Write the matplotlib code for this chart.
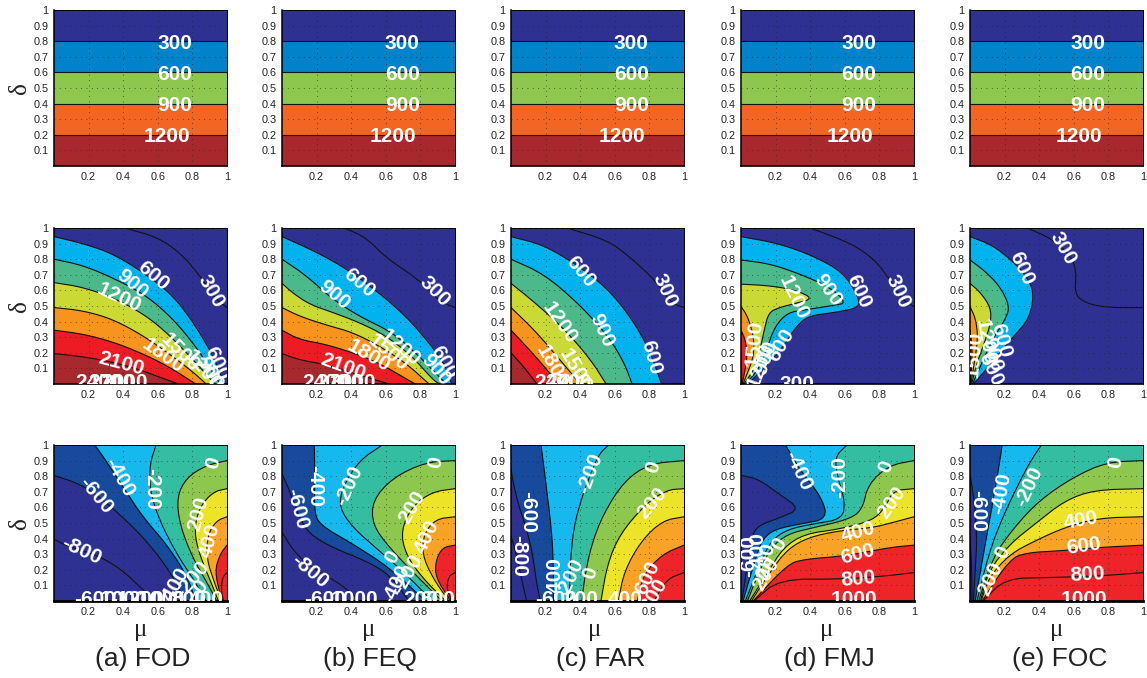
import numpy as np
import matplotlib
matplotlib.use('Agg')
import matplotlib.pyplot as plt

W, H = 1147, 678
col_left = [54, 282, 511, 741, 970]
row_top = [10, 228, 445]
ax_w, ax_h = 173, 156

names = ['(a) FOD', '(b) FEQ', '(c) FAR', '(d) FMJ', '(e) FOC']
name_x = [143, 370, 601, 829, 1060]
mu_x = [141, 369, 595, 827, 1057]
ticks_x = [0.2, 0.4, 0.6, 0.8, 1]
ticks_y = [0.1, 0.2, 0.3, 0.4, 0.5, 0.6, 0.7, 0.8, 0.9, 1]
ticklabels_x = ['0.2', '0.4', '0.6', '0.8', '1']
ticklabels_y = ['0.1', '0.2', '0.3', '0.4', '0.5', '0.6', '0.7', '0.8', '0.9', '1']

navy = '#2e3192'
top_colors = {300: '#0083ca', 600: '#8dc74e', 900: '#f36523', 1200: '#a9282e'}
mid_colors = {600: '#00b2ee', 900: '#4cb98a', 1200: '#cbd935', 1500: '#f7941d', 1800: '#ed1c24', 2100: '#a9282e'}
low_colors = {-600: '#174a9c', -400: '#15b9ee', -200: '#33bda1', 0: '#8dc74e', 200: '#eee427',
              400: '#f9a326', 600: '#ee2428', 800: '#ee2428'}

# top row, same in every column
top_curves = {
    300: [(0, .8), (1, .8)],
    600: [(0, .6), (1, .6)],
    900: [(0, .4), (1, .4)],
    1200: [(0, .2), (1, .2)],
}
top_labels = [
    [('300', .70, .785, 0), ('600', .70, .585, 0), ('900', .70, .385, 0), ('1200', .65, .19, 0)],
    [('300', .695, .785, 0), ('600', .695, .585, 0), ('900', .695, .385, 0), ('1200', .64, .19, 0)],
    [('300', .695, .785, 0), ('600', .695, .585, 0), ('900', .695, .385, 0), ('1200', .64, .19, 0)],
    [('300', .68, .785, 0), ('600', .68, .585, 0), ('900', .68, .385, 0), ('1200', .63, .19, 0)],
    [('300', .68, .785, 0), ('600', .68, .585, 0), ('900', .68, .385, 0), ('1200', .63, .19, 0)],
]

# middle row, contour lines as (mu, delta)
mid_fod = {
    300: [(.41, 1), (.6, .94), (.73, .84), (.84, .70), (.93, .55), (1, .49)],
    600: [(0, .945), (.17, .9), (.34, .835), (.515, .716), (.69, .566), (.82, .37), (.92, .18), (.985, 0)],
    900: [(0, .8), (.17, .76), (.36, .67), (.535, .566), (.69, .415), (.82, .24), (.92, .07), (.96, 0)],
    1200: [(0, .65), (.17, .62), (.36, .545), (.535, .436), (.67, .31), (.8, .16), (.93, 0)],
    1500: [(0, .49), (.17, .47), (.34, .415), (.515, .31), (.67, .19), (.8, .08), (.88, 0)],
    1800: [(0, .345), (.17, .32), (.34, .27), (.5, .2), (.65, .12), (.82, 0)],
    2100: [(0, .195), (.17, .175), (.34, .14), (.5, .09), (.62, .04), (.72, 0)],
}
mid_feq = {
    300: [(.36, 1), (.485, .94), (.6, .81), (.79, .67), (.91, .53), (1, .49)],
    600: [(0, .945), (.2, .845), (.37, .74), (.56, .585), (.715, .435), (.85, .265), (.945, .115), (.98, 0)],
    900: [(0, .8), (.14, .695), (.29, .545), (.445, .435), (.64, .33), (.79, .18), (.87, .09), (.95, 0)],
    1200: [(0, .645), (.06, .585), (.16, .51), (.29, .46), (.445, .395), (.6, .31), (.75, .18), (.87, .03), (.91, 0)],
    1500: [(0, .49), (.1, .435), (.25, .38), (.41, .33), (.56, .245), (.715, .135), (.85, 0)],
    1800: [(0, .345), (.1, .285), (.25, .255), (.41, .2), (.56, .135), (.77, 0)],
    2100: [(0, .195), (.1, .155), (.25, .125), (.41, .07), (.62, 0)],
}
mid_far = {
    300: [(.325, 1), (.56, .92), (.68, .82), (.83, .67), (.925, .52), (1, .49)],
    600: [(0, .945), (.19, .89), (.386, .76), (.56, .61), (.70, .415), (.80, .22), (.87, 0)],
    900: [(0, .8), (.19, .705), (.386, .52), (.56, .31), (.655, .135), (.70, 0)],
    1200: [(0, .645), (.14, .52), (.31, .35), (.46, .157), (.55, 0)],
    1500: [(0, .49), (.14, .34), (.264, .18), (.4, 0)],
    1800: [(0, .345), (.09, .24), (.19, .115), (.276, 0)],
    2100: [(0, .2), (.07, .115), (.15, 0)],
}
mid_fmj = {
    300: [(.40, 1), (.64, .9), (.77, .80), (.86, .67), (.93, .54), (1, .497)],
    600: [(0, .945), (.22, .9), (.42, .82), (.59, .716), (.675, .566), (.686, .49), (.54, .458), (.39, .437),
          (.32, .37), (.245, .243), (.147, .114), (.037, 0)],
    900: [(0, .795), (.17, .77), (.34, .705), (.515, .62), (.61, .52), (.54, .505), (.37, .475), (.27, .458),
          (.196, .37), (.147, .22), (.1, .09), (.025, 0)],
    1200: [(0, .64), (.17, .63), (.32, .6), (.417, .548), (.32, .518), (.22, .49), (.16, .458), (.135, .35),
           (.11, .22), (.074, .09), (.017, 0)],
    1500: [(0, .497), (.037, .437), (.074, .307), (.074, .178), (.037, .07), (.012, 0)],
    1800: [(0, .344), (.025, .286), (.037, .178), (.02, .07), (.007, 0)],
    2100: [(0, .2), (.005, 0)],
}
mid_foc = {
    300: [(.33, 1), (.475, .93), (.585, .82), (.616, .716), (.604, .576), (.67, .518), (.79, .49), (1, .49)],
    600: [(0, .945), (.13, .89), (.254, .78), (.34, .67), (.37, .566), (.34, .415), (.254, .307), (.156, .178),
          (.06, .05), (.02, 0)],
    900: [(0, .795), (.083, .727), (.17, .63), (.23, .5), (.205, .415), (.13, .286), (.06, .114), (.015, 0)],
    1200: [(0, .645), (.06, .587), (.12, .49), (.12, .39), (.083, .265), (.034, .114), (.01, 0)],
    1500: [(0, .497), (.034, .415), (.046, .286), (.022, .114), (.005, 0)],
    1800: [(0, .344), (.015, .22), (.003, 0)],
    2100: [(0, .2), (.002, 0)],
}
mid_labels = [
    [('300', .91, .595, -60), ('600', .573, .695, -40), ('900', .454, .64, -40), ('1200', .377, .555, -25),
     ('1500', .73, .2, -45), ('1800', .63, .18, -35), ('2100', .39, .13, -15), ('600', .94, .13, -65),
     ('900', .90, .07, -60), ('1200', .86, .09, -50), ('2400', .26, .01, 0), ('2700', .33, .01, 0),
     ('3000', .41, .01, 0)],
    [('300', .88, .595, -45), ('600', .446, .65, -40), ('900', .30, .57, -40), ('1500', .61, .2, -40),
     ('1200', .68, .235, -40), ('1800', .50, .18, -30), ('2100', .35, .11, -20), ('600', .935, .14, -60),
     ('900', .89, .09, -50), ('2400', .25, .01, 0), ('2700', .33, .01, 0), ('3000', .41, .01, 0)],
    [('300', .887, .60, -65), ('600', .40, .72, -50), ('900', .525, .34, -65), ('1200', .28, .39, -55),
     ('600', .81, .17, -75), ('1800', .24, .115, -60), ('1500', .37, .09, -60), ('2400', .27, .01, 0),
     ('2700', .33, .01, 0)],
    [('300', .907, .595, -65), ('600', .68, .595, -65), ('900', .50, .60, -55), ('1200', .306, .555, -65),
     ('1500', .074, .26, 85), ('600', .233, .247, 60), ('900', .147, .17, 70), ('1200', .11, .12, 70),
     ('300', .323, .0, 0)],
    [('300', .535, .87, -60), ('600', .30, .74, -65), ('1500', .022, .19, 85), ('600', .18, .28, -75),
     ('900', .13, .19, -75), ('1200', .09, .27, -80), ('600', .12, .09, -65)],
]

# bottom row
low_fod = {
    -800: [(0, .397), (.07, .354), (.26, .29), (.4, .193), (.5, .086), (.59, 0)],
    -600: [(0, .805), (.15, .75), (.265, .665), (.42, .515), (.55, .365), (.67, .19), (.76, 0)],
    -400: [(.236, 1), (.30, .9), (.4, .73), (.515, .536), (.65, .365), (.765, .17), (.82, 0)],
    -200: [(.59, 1), (.554, .88), (.554, .71), (.61, .515), (.71, .30), (.80, .15), (.88, 0)],
    0: [(1, .90), (.88, .87), (.765, .79), (.71, .665), (.727, .49), (.80, .28), (.89, .107), (.94, 0)],
    200: [(1, .72), (.92, .70), (.84, .60), (.81, .45), (.84, .30), (.92, .086), (.95, 0)],
    400: [(1, .54), (.94, .515), (.89, .43), (.88, .28), (.93, .107), (.97, 0)],
    600: [(1, .358), (.96, .30), (.93, .193), (.96, .043), (.975, 0)],
    800: [(1, .182), (.973, .15), (.967, .064), (.98, 0)],
}
low_feq = {
    -800: [(0, .44), (.08, .30), (.2, .193), (.31, .129), (.41, .043), (.446, 0)],
    -600: [(0, .815), (.06, .665), (.1, .536), (.158, .43), (.29, .343), (.485, .257), (.62, .17), (.735, 0)],
    -400: [(.187, 1), (.19, .77), (.187, .58), (.215, .49), (.41, .365), (.62, .215), (.83, 0)],
    -200: [(.58, 1), (.446, .90), (.35, .73), (.33, .60), (.41, .47), (.54, .343), (.696, .193), (.87, 0)],
    0: [(1, .9), (.83, .89), (.64, .79), (.523, .644), (.523, .49), (.62, .343), (.77, .17), (.925, 0)],
    200: [(1, .72), (.87, .70), (.754, .61), (.687, .45), (.715, .30), (.81, .15), (.946, 0)],
    400: [(1, .54), (.888, .525), (.82, .43), (.81, .30), (.87, .15), (.965, 0)],
    600: [(1, .358), (.927, .343), (.888, .257), (.888, .15), (.975, 0)],
    800: [(1, .182), (.965, .16), (.95, .086), (.98, 0)],
}
low_far = {
    -800: [(0, .42), (.03, .3), (.06, .15), (.09, 0)],
    -600: [(0, .84), (.03, .665), (.093, .45), (.125, .3), (.15, .1), (.17, 0)],
    -400: [(.174, 1), (.2, .77), (.235, .45), (.245, .236), (.245, 0)],
    -200: [(.565, 1), (.51, .944), (.46, .815), (.41, .665), (.362, .47), (.342, .236), (.337, 0)],
    0: [(1, .90), (.80, .88), (.655, .77), (.533, .558), (.46, .343), (.423, .129), (.41, 0)],
    200: [(1, .72), (.90, .712), (.777, .62), (.63, .43), (.557, .236), (.52, 0)],
    400: [(1, .54), (.875, .515), (.753, .386), (.655, .193), (.62, 0)],
    600: [(1, .358), (.875, .30), (.765, .17), (.73, 0)],
    800: [(1, .182), (.90, .14), (.826, 0)],
}
low_fmj = {
    -600: [(0, .805), (.098, .783), (.22, .686), (.343, .59), (.22, .532), (.098, .483), (.06, .408), (.037, .236),
           (.005, 0)],
    -400: [(.257, 1), (.343, .837), (.466, .665), (.50, .526), (.343, .494), (.196, .46), (.123, .397), (.074, .236),
           (.012, 0)],
    -200: [(.613, 1), (.54, .923), (.564, .77), (.60, .644), (.588, .526), (.417, .494), (.27, .46), (.172, .386),
           (.11, .236), (.025, 0)],
    0: [(1, .90), (.858, .87), (.735, .75), (.70, .58), (.613, .52), (.417, .47), (.27, .43), (.172, .343),
        (.098, .17), (.037, 0)],
    200: [(1, .72), (.88, .708), (.833, .60), (.76, .515), (.564, .46), (.368, .43), (.245, .343), (.147, .17),
          (.05, 0)],
    400: [(1, .54), (.88, .504), (.76, .47), (.564, .45), (.39, .408), (.27, .333), (.172, .193), (.06, 0)],
    600: [(1, .358), (.858, .343), (.613, .29), (.368, .268), (.27, .236), (.07, 0)],
    800: [(1, .182), (.833, .16), (.588, .14), (.22, .14), (.075, 0)],
}
low_foc = {
    -800: [(0, .41), (.01, .2), (.012, 0)],
    -600: [(0, .815), (.03, .6), (.04, .386), (.03, .2), (.02, 0)],
    -400: [(.186, 1), (.17, .88), (.13, .62), (.095, .408), (.03, 0)],
    -200: [(.413, 1), (.352, .90), (.28, .75), (.18, .515), (.108, .30), (.04, 0)],
    0: [(1, .90), (.79, .89), (.597, .794), (.40, .644), (.254, .47), (.132, .28), (.05, 0)],
    200: [(1, .72), (.72, .712), (.548, .644), (.376, .494), (.23, .365), (.108, .193), (.06, 0)],
    400: [(1, .54), (.743, .532), (.548, .472), (.376, .386), (.23, .30), (.108, .15), (.065, 0)],
    600: [(1, .358), (.743, .343), (.523, .322), (.328, .31), (.23, .268), (.07, 0)],
    800: [(1, .182), (.743, .16), (.45, .15), (.205, .144), (.075, 0)],
}
low_labels = [
    [('0', .923, .887, 75), ('-400', .38, .795, -60), ('-200', .563, .72, -90), ('-600', .243, .675, -50),
     ('-800', .16, .32, -25), ('200', .833, .56, 75), ('400', .90, .386, 75), ('-400', .69, .09, 60),
     ('-200', .80, .14, 50), ('0', .85, .09, 50), ('-600', .24, .01, 0), ('-1000', .38, .01, 0),
     ('-1200', .48, .01, 0), ('-1000', .60, .01, 0), ('800', .78, .01, 0), ('400', .88, .01, 0)],
    [('0', .888, .887, 80), ('-400', .187, .74, -90), ('-200', .388, .74, 65), ('-600', .085, .59, -75),
     ('-800', .158, .19, -40), ('200', .754, .60, 60), ('400', .84, .41, 65), ('0', .638, .28, 60),
     ('-200', .725, .17, 60), ('-400', .658, .107, 65), ('-600', .25, .01, 0), ('-1000', .40, .01, 0),
     ('200', .80, .01, 0), ('600', .90, .01, 0)],
    [('-200', .46, .815, 70), ('0', .82, .86, 75), ('200', .814, .626, 50), ('-600', .098, .57, -90),
     ('-800', .044, .29, -90), ('-400', .25, .15, 90), ('-200', .34, .14, 65), ('0', .46, .18, 75),
     ('600', .79, .15, 65), ('800', .826, .04, 60), ('200', .40, .01, 0), ('400', .66, .01, 0),
     ('-600', .26, .01, 0)],
    [('-400', .33, .837, -65), ('-200', .568, .794, 90), ('0', .838, .862, 70), ('200', .87, .633, 55),
     ('400', .674, .44, 15), ('600', .674, .30, 15), ('800', .68, .14, 5), ('1000', .65, .01, 0),
     ('-600', .044, .29, 90), ('-400', .095, .31, 90), ('-200', .14, .24, 80), ('0', .22, .365, 60),
     ('200', .147, .17, 60)],
    [('0', .84, .887, 80), ('-400', .18, .687, 80), ('-200', .34, .73, 65), ('-600', .046, .58, -90),
     ('400', .64, .515, 10), ('600', .66, .35, 8), ('800', .68, .17, 3), ('1000', .66, .01, 0),
     ('0', .19, .31, 65), ('200', .12, .14, 65)],
]

mid_panels = [mid_fod, mid_feq, mid_far, mid_fmj, mid_foc]
low_panels = [low_fod, low_feq, low_far, low_fmj, low_foc]


def smooth(pts, n=2):
    # corner cutting, the end points stay on the frame
    p = np.array(pts, dtype=float)
    if len(p) < 3:
        return p
    for _ in range(n):
        q = [p[0]]
        for a, b in zip(p[:-1], p[1:]):
            q.append(.75 * a + .25 * b)
            q.append(.25 * a + .75 * b)
        q.append(p[-1])
        p = np.array(q)
    return p


def closing(pts, row):
    # frame corners that shut the region holding the higher values
    x0, y0 = pts[0]
    x1, y1 = pts[-1]
    if row < 2:
        return [(0, 0)] if y1 == 0 else [(1, 0), (0, 0)]
    if x0 == 1:
        return [(1, 0)]
    if y0 == 1:
        return [(1, 0), (1, 1)]
    return [(1, 0), (1, 1), (0, 1)]


def draw_panel(ax, curves, colors, labels, row):
    ax.set_facecolor(navy)
    for level in sorted(curves):
        xy = smooth(curves[level])
        if level in colors:
            poly = np.vstack([xy, closing(curves[level], row)])
            ax.fill(poly[:, 0], poly[:, 1], color=colors[level], lw=0, zorder=1)
        ax.plot(xy[:, 0], xy[:, 1], color='#111111', lw=0.8, zorder=2)
    for txt, x, y, rot in labels:
        ax.text(x, y, txt, color='white', fontsize=15, fontweight='bold', rotation=rot,
                ha='center', va='center', rotation_mode='anchor', clip_on=True, zorder=5)
    ax.set_xlim(0, 1)
    ax.set_ylim(0, 1)
    ax.set_xticks(ticks_x)
    ax.set_xticklabels(ticklabels_x)
    ax.set_yticks(ticks_y)
    ax.set_yticklabels(ticklabels_y)
    ax.tick_params(length=0, labelsize=7.8, labelcolor='#222222', pad=4)
    ax.set_axisbelow(False)
    ax.grid(True, color='#222222', ls=(0, (1, 6)), lw=0.55)
    ax.spines['left'].set_linewidth(1.1)
    ax.spines['bottom'].set_linewidth(2.0 if row == 2 else 1.2)
    ax.spines['top'].set_linewidth(0.7)
    ax.spines['right'].set_linewidth(0.7)


plt.rcParams['font.family'] = ['Liberation Sans', 'DejaVu Sans']
fig = plt.figure(figsize=(W / 100, H / 100), dpi=100)

for r, top in enumerate(row_top):
    for c, left in enumerate(col_left):
        ax = fig.add_axes([left / W, 1 - (top + ax_h) / H, ax_w / W, ax_h / H])
        if r == 0:
            draw_panel(ax, top_curves, top_colors, top_labels[c], r)
        elif r == 1:
            draw_panel(ax, mid_panels[c], mid_colors, mid_labels[c], r)
        else:
            draw_panel(ax, low_panels[c], low_colors, low_labels[c], r)
    fig.text(20 / W, 1 - (top + 78) / H, 'δ', family='Liberation Serif', fontsize=18, rotation=90,
             ha='center', va='center', color='#222222')

for c in range(5):
    fig.text(mu_x[c] / W, 1 - 630 / H, 'μ', family='Liberation Serif', fontsize=18,
             ha='center', va='center', color='#222222')
    fig.text(name_x[c] / W, 1 - 659 / H, names[c], fontsize=19, ha='center', va='center', color='#222222')

fig.savefig('out.png', dpi=100)
